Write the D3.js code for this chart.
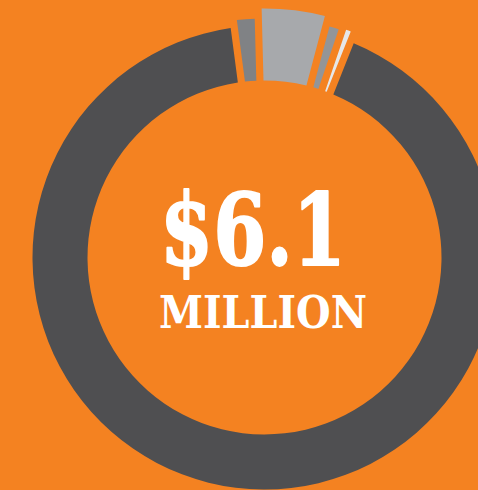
<!DOCTYPE html>
<html>
<head>
<meta charset="utf-8">
<script src="https://cdn.jsdelivr.net/npm/d3@7"></script>
<style>
  body { margin: 0; background: #F48221; }
  svg { display: block; }
</style>
</head>
<body>
<script>
// Slice values ($ millions), in order clockwise from just left of the top
const categories = ["Segment B", "Segment C", "Segment D", "Segment E", "Segment A"];
const amounts = [0.07, 0.25, 0.035, 0.015, 5.73];
const totalLabel = "$6.1";
const unitLabel = "MILLION";

// Styling per slice
const sliceColors = ["#808285", "#A7A9AC", "#939598", "#E6E7E8", "#4F4F51"];
const sliceOuter = [239, 249, 240, 242, 232];

const width = 478, height = 490;
const cx = 264.5, cy = 257.5;
const innerR = 177;

const svg = d3.select("body")
              .append("svg")
              .attr("width", width)
              .attr("height", height);

svg.append("rect")
   .attr("width", width)
   .attr("height", height)
   .attr("fill", "#F48221");

const g = svg.append("g")
             .attr("transform", `translate(${cx},${cy})`);

const deg = Math.PI / 180;
const start = -7.5 * deg;

const pie = d3.pie()
              .sort(null)
              .value(d => d)
              .startAngle(start)
              .endAngle(start + 2 * Math.PI)
              .padAngle(2 * deg);

const arcs = pie(amounts);

g.selectAll("path")
 .data(arcs)
 .join("path")
 .attr("fill", (d, i) => sliceColors[i])
 .attr("d", (d, i) => d3.arc()
      .innerRadius(innerR)
      .outerRadius(sliceOuter[i])
      .padRadius(205)(d));

// Center labels
svg.append("text")
   .attr("x", 160)
   .attr("y", 265)
   .attr("textLength", 186)
   .attr("lengthAdjust", "spacingAndGlyphs")
   .style("font-family", "'DejaVu Serif', serif")
   .style("font-weight", "bold")
   .style("font-size", "100px")
   .attr("fill", "#fff")
   .attr("stroke", "#fff")
   .attr("stroke-width", 2)
   .attr("stroke-linejoin", "round")
   .text(totalLabel);

svg.append("text")
   .attr("x", 159)
   .attr("y", 328)
   .attr("textLength", 208)
   .attr("lengthAdjust", "spacingAndGlyphs")
   .style("font-family", "'DejaVu Serif', serif")
   .style("font-weight", "bold")
   .style("font-size", "45px")
   .attr("fill", "#fff")
   .text(unitLabel);
</script>
</body>
</html>
